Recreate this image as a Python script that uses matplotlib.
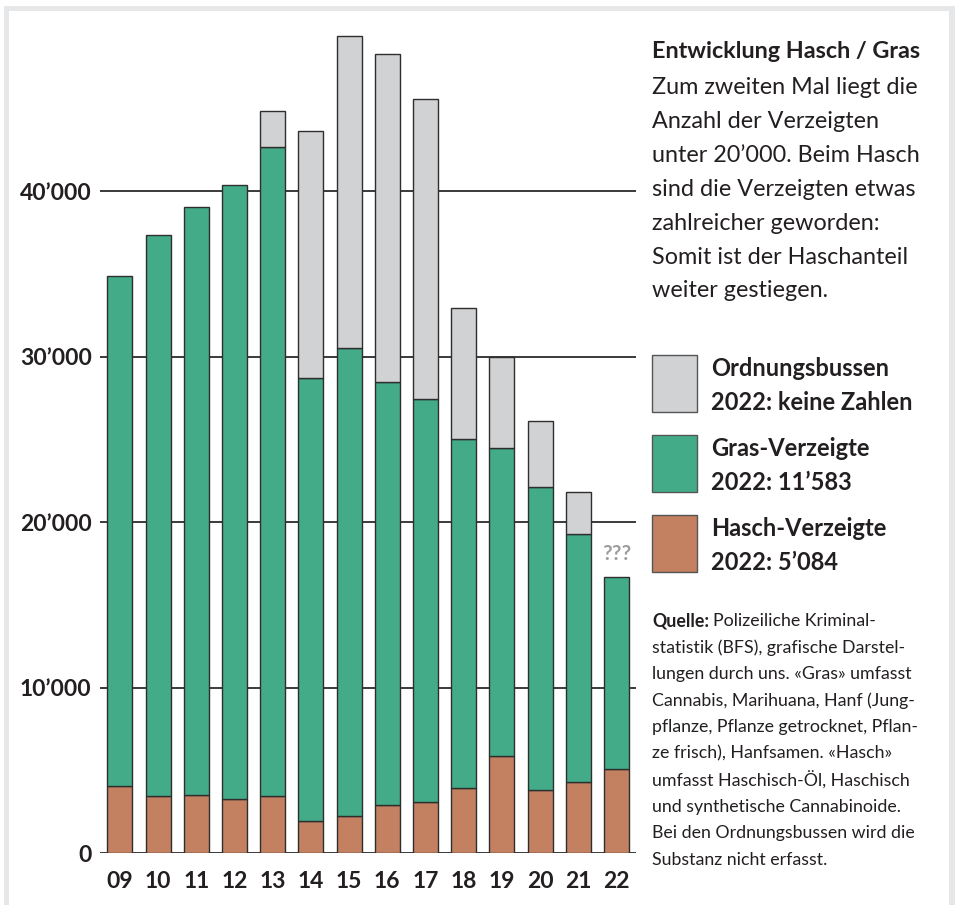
import matplotlib
matplotlib.use("Agg")
import matplotlib.pyplot as plt
from matplotlib.patches import Rectangle
import numpy as np

plt.rcParams["font.family"] = ["Lato", "DejaVu Sans"]

# --- data -------------------------------------------------------------
years = ["09", "10", "11", "12", "13", "14", "15", "16", "17", "18", "19", "20", "21", "22"]
hasch = [4050, 3430, 3510, 3250, 3430, 1960, 2220, 2880, 3070, 3930, 5890, 3830, 4310, 5084]
gras = [30830, 33920, 35530, 37120, 39240, 26780, 28290, 25620, 24400, 21080, 18620, 18280, 15000, 11583]
# Ordnungsbussen: no figures before 2013 and for 2022
bussen = [None, None, None, None, 2190, 14890, 18885, 19785, 18135, 7960, 5480, 4010, 2515, None]
yticks = [0, 10000, 20000, 30000, 40000]

C_HASCH = "#c48161"
C_GRAS = "#43ab87"
C_BUSSEN = "#d1d2d4"
C_EDGE = "#2e2e2e"
C_TEXT = "#231f20"

W, H = 955, 905
fig = plt.figure(figsize=(W / 100, H / 100), dpi=100)


def fx(px):
    return px / W


def fy(py):
    return 1 - py / H


# light frame around the graphic
for x0, y0, w, h in [(4, 6, 951, 5), (4, 6, 5, 899), (949, 6, 6, 899)]:
    fig.add_artist(Rectangle((fx(x0), fy(y0 + h)), w / W, h / H,
                             transform=fig.transFigure, color="#e6e7e8", lw=0))

ax = fig.add_axes([fx(100), fy(853), fx(636) - fx(100), fy(26) - fy(853)])

x = np.arange(len(years))
width = 0.655
hasch_a = np.array(hasch, dtype=float)
gras_a = np.array(gras, dtype=float)
ax.bar(x, hasch_a, width, color=C_HASCH, edgecolor=C_EDGE, linewidth=1, zorder=3)
ax.bar(x, gras_a, width, bottom=hasch_a, color=C_GRAS, edgecolor=C_EDGE, linewidth=1, zorder=3)
bx = [i for i, b in enumerate(bussen) if b]
bv = [bussen[i] for i in bx]
ax.bar(bx, bv, width, bottom=(hasch_a + gras_a)[bx], color=C_BUSSEN,
       edgecolor=C_EDGE, linewidth=1, zorder=3)

ax.text(x[-1], hasch_a[-1] + gras_a[-1] + 800, "???", ha="center", va="bottom",
        fontsize=15, fontweight="bold", color="#9d9d9f")

ax.set_xlim(-0.52, len(years) - 0.49)
ax.set_ylim(0, 50000)
ax.set_yticks(yticks)
ax.set_yticklabels([f"{v:,}".replace(",", "\u2019") for v in yticks])
ax.set_xticks(x)
ax.set_xticklabels(years)
ax.tick_params(axis="both", length=0, labelsize=16.5, labelcolor=C_TEXT)
ax.tick_params(axis="y", pad=6)
ax.tick_params(axis="x", pad=13)
for lab in ax.get_xticklabels() + ax.get_yticklabels():
    lab.set_fontweight("bold")
ax.yaxis.grid(True, color="#2b2b2b", linewidth=1.3)
ax.set_axisbelow(True)
for s in ax.spines.values():
    s.set_visible(False)

# --- right-hand text --------------------------------------------------
fig.text(fx(652), fy(52), "Entwicklung Hasch / Gras", fontsize=16.8,
         fontweight="bold", color=C_TEXT, va="center")
intro = ["Zum zweiten Mal liegt die", "Anzahl der Verzeigten",
         "unter 20\u2019000. Beim Hasch", "sind die Verzeigten etwas",
         "zahlreicher geworden:", "Somit ist der Haschanteil",
         "weiter gestiegen."]
for i, line in enumerate(intro):
    fig.text(fx(652), fy(88 + i * 33.8), line, fontsize=16.8, color=C_TEXT, va="center")

legend = [(C_BUSSEN, "Ordnungsbussen", "2022: keine Zahlen"),
          (C_GRAS, "Gras-Verzeigte", "2022: 11\u2019583"),
          (C_HASCH, "Hasch-Verzeigte", "2022: 5\u2019084")]
for i, (col, l1, l2) in enumerate(legend):
    top = 355 + i * 80
    fig.add_artist(Rectangle((fx(652), fy(top + 57)), 45 / W, 57 / H,
                             transform=fig.transFigure, facecolor=col,
                             edgecolor="#555555", lw=1))
    fig.text(fx(711), fy(top + 13), l1, fontsize=17, fontweight="bold", color=C_TEXT, va="center")
    fig.text(fx(711), fy(top + 47), l2, fontsize=17, fontweight="bold", color=C_TEXT, va="center")

source = ["Polizeiliche Kriminal-", "statistik (BFS), grafische Darstel-",
          "lungen durch uns. \u00abGras\u00bb umfasst",
          "Cannabis, Marihuana, Hanf (Jung-",
          "pflanze, Pflanze getrocknet, Pflan-",
          "ze frisch), Hanfsamen. \u00abHasch\u00bb",
          "umfasst Haschisch-\u00d6l, Haschisch",
          "und synthetische Cannabinoide.",
          "Bei den Ordnungsbussen wird die",
          "Substanz nicht erfasst."]
q = fig.text(fx(652), fy(621), "Quelle:", fontsize=12.8, fontweight="bold",
             color=C_TEXT, va="center")
fig.canvas.draw()
qw = q.get_window_extent().width
fig.text(fx(652) + (qw + 4) / W, fy(621), source[0], fontsize=12.8, color=C_TEXT, va="center")
for i, line in enumerate(source[1:], start=1):
    fig.text(fx(652), fy(621 + i * 26.5), line, fontsize=12.8, color=C_TEXT, va="center")

fig.savefig("out.png", dpi=100, facecolor="white")
